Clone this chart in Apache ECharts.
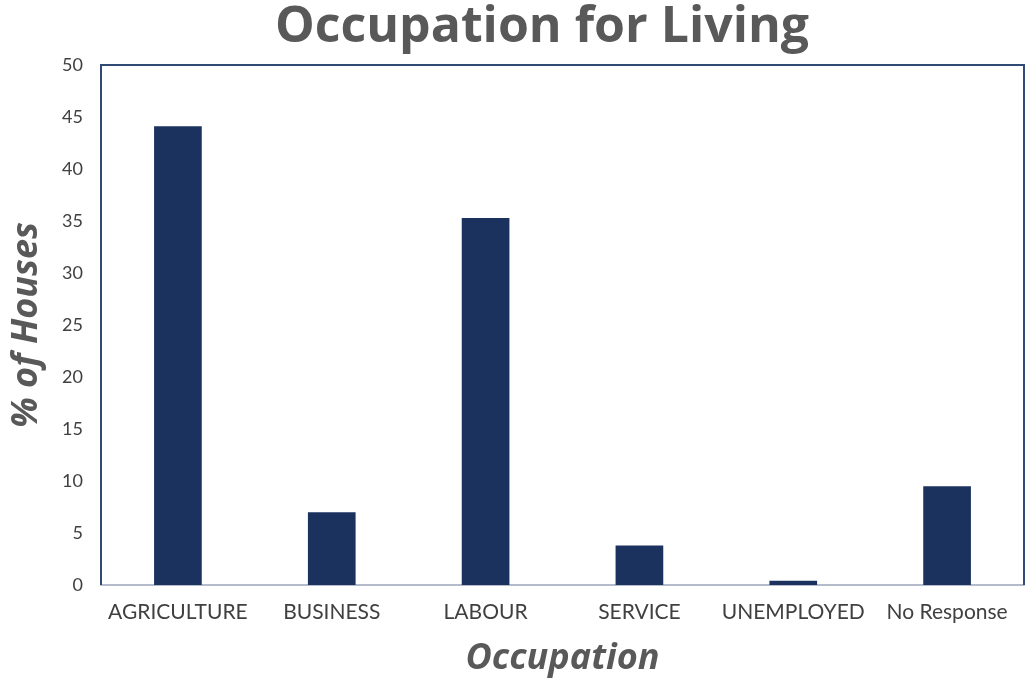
<!DOCTYPE html>
<html>
<head>
<meta charset="utf-8">
<script src="https://cdn.jsdelivr.net/npm/echarts@6/dist/echarts.min.js"></script>
<style>
  html, body { margin: 0; padding: 0; background: #fff; }
  #main { width: 1030px; height: 678px; }
</style>
</head>
<body>
<div id="main"></div>
<script>
var categories = ['AGRICULTURE', 'BUSINESS', 'LABOUR', 'SERVICE', 'UNEMPLOYED', 'No Response'];
var percentHouses = [44.1, 7.0, 35.3, 3.8, 0.4, 9.5];
var yTicks = { min: 0, max: 50, interval: 5 };

var myChart = echarts.init(document.getElementById('main'));

var option = {
    backgroundColor: '#fff',
    title: {
        text: 'Occupation for Living',
        left: 270,
        top: -2,
        textStyle: {
            fontFamily: 'Open Sans',
            fontWeight: 'bold',
            fontSize: 50,
            color: '#595959'
        }
    },
    grid: {
        left: 101,
        right: 6,
        top: 65,
        bottom: 93,
        containLabel: false,
        outerBoundsMode: 'none'
    },
    xAxis: {
        type: 'category',
        data: categories,
        name: 'Occupation',
        nameLocation: 'middle',
        nameGap: 56,
        nameTextStyle: {
            fontFamily: 'Open Sans',
            fontStyle: 'italic',
            fontWeight: 'bold',
            fontSize: 36,
            color: '#595959'
        },
        axisLine: { lineStyle: { color: '#b4bccb', width: 2 } },
        axisTick: { show: false },
        axisLabel: {
            fontFamily: 'Lato',
            fontSize: 21,
            color: '#404040',
            margin: 17,
            interval: 0
        }
    },
    yAxis: {
        type: 'value',
        min: yTicks.min,
        max: yTicks.max,
        interval: yTicks.interval,
        name: '% of Houses',
        nameLocation: 'middle',
        nameGap: 56,
        nameTextStyle: {
            fontFamily: 'Open Sans',
            fontStyle: 'italic',
            fontWeight: 'bold',
            fontSize: 36,
            color: '#595959'
        },
        axisLine: { show: false },
        axisTick: { show: false },
        splitLine: { show: false },
        axisLabel: {
            fontFamily: 'Lato',
            fontSize: 18,
            color: '#404040',
            margin: 18
        }
    },
    series: [{
        name: '% of Houses',
        type: 'bar',
        data: percentHouses,
        barWidth: '31%',
        itemStyle: { color: '#1b325f' }
    }],
    graphic: [{
        type: 'polyline',
        shape: { points: [[101, 585], [101, 65], [1024, 65], [1024, 585]] },
        style: { fill: null, stroke: '#2f4a75', lineWidth: 2 },
        z: 10
    }]
};

myChart.setOption(option);
</script>
</body>
</html>
